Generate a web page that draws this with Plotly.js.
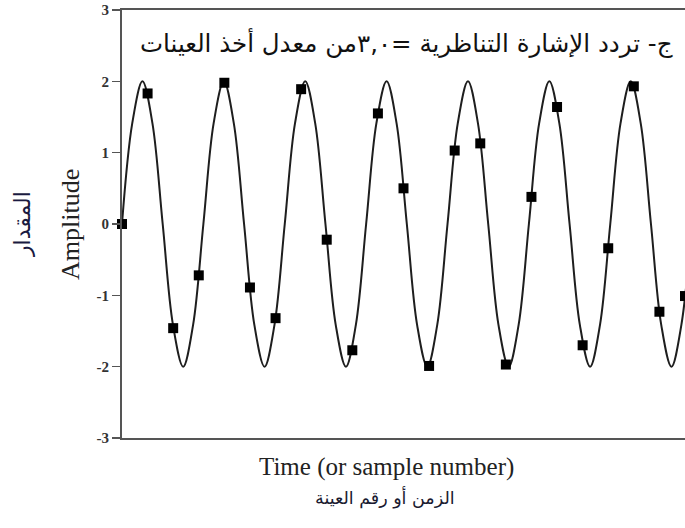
<!DOCTYPE html>
<html>
<head>
<meta charset="utf-8">
<script src="https://cdn.plot.ly/plotly-3.0.1.min.js"></script>
<style>html,body{margin:0;padding:0;background:#fff;}#chart{width:685px;height:528px;}</style>
</head>
<body>
<div id="chart"></div>
<script>
const sampleN = [0,1,2,3,4,5,6,7,8,9,10,11,12,13,14,15,16,17,18,19,20,21,22];
const sampleAmp = [0,1.83,-1.46,-0.72,1.98,-0.89,-1.32,1.89,-0.22,-1.77,1.55,0.50,-1.99,1.03,1.13,-1.97,0.38,1.64,-1.70,-0.34,1.93,-1.23,-1.01];

// Analog signal: points (eighth-period steps)
const curveT = [0,0.40,0.80,1.19,1.59,1.99,2.39,2.78,3.18,3.58,3.98,4.37,4.77,5.17,5.57,5.96,6.36,6.76,7.16,7.55,7.95,8.35,8.75,9.14,9.54,9.94,10.34,10.73,11.13,11.53,11.93,12.32,12.72,13.12,13.52,13.91,14.31,14.71,15.11,15.50,15.90,16.30,16.70,17.09,17.49,17.89,18.29,18.68,19.08,19.48,19.88,20.27,20.67,21.07,21.47,21.86,22.26];
const curveAmp = [0,1.41,2,1.41,0,-1.41,-2,-1.41,0,1.41,2,1.41,0,-1.41,-2,-1.41,0,1.41,2,1.41,0,-1.41,-2,-1.41,0,1.41,2,1.41,0,-1.41,-2,-1.41,0,1.41,2,1.41,0,-1.41,-2,-1.41,0,1.41,2,1.41,0,-1.41,-2,-1.41,0,1.41,2,1.41,0,-1.41,-2,-1.41,0];

const yTicks = [-3,-2,-1,0,1,2,3];

const titleAr = "ج- تردد الإشارة التناظرية =٣,٠من معدل أخذ العينات";
const xTitleEn = "Time (or sample number)";
const xTitleAr = "الزمن أو رقم العينة";
const yTitleEn = "Amplitude";
const yTitleAr = "المقدار";

const traces = [
  {x: curveT, y: curveAmp, mode: 'lines', type: 'scatter',
   line: {color: '#1e1e1e', width: 2, shape: 'spline', smoothing: 1}, hoverinfo: 'skip'},
  {x: sampleN, y: sampleAmp, mode: 'markers', type: 'scatter', cliponaxis: false,
   marker: {symbol: 'square', size: 10, color: '#000'}}
];

const layout = {
  width: 685, height: 528,
  margin: {l: 122, r: 0, t: 10, b: 90, pad: 0},
  paper_bgcolor: '#fff', plot_bgcolor: '#fff',
  showlegend: false,
  xaxis: {range: [0, 22], showticklabels: false, ticks: '', showgrid: false, zeroline: false,
          showline: true, linecolor: '#555', linewidth: 2, mirror: true},
  yaxis: {range: [-3, 3], tickvals: yTicks, ticktext: yTicks.map(String), ticks: 'outside', ticklen: 8,
          tickwidth: 1.5, tickcolor: '#555', showgrid: false, zeroline: false,
          showline: true, linecolor: '#555', linewidth: 2,
          tickfont: {family: 'Liberation Serif', size: 15, color: '#333', weight: 'bold'}},
  annotations: [
    {text: titleAr, xref: 'paper', yref: 'paper', x: 0.506, y: 0.923, showarrow: false,
     xanchor: 'center', yanchor: 'middle',
     font: {family: 'DejaVu Sans', size: 24.5, color: '#111'}},
    {text: yTitleEn, xref: 'paper', yref: 'paper', x: -0.0924, y: 0.5, showarrow: false, textangle: -90,
     xanchor: 'center', yanchor: 'middle',
     font: {family: 'Liberation Serif', size: 26, color: '#222'}},
    {text: yTitleAr, xref: 'paper', yref: 'paper', x: -0.1776, y: 0.5, showarrow: false, textangle: -90,
     xanchor: 'center', yanchor: 'middle',
     font: {family: 'DejaVu Sans', size: 22, color: '#1a1a40'}},
    {text: xTitleEn, xref: 'paper', yref: 'paper', x: 0.469, y: 0, yshift: -29, showarrow: false,
     xanchor: 'center', yanchor: 'middle',
     font: {family: 'Liberation Serif', size: 25, color: '#222'}},
    {text: xTitleAr, xref: 'paper', yref: 'paper', x: 0.467, y: 0, yshift: -59, showarrow: false,
     xanchor: 'center', yanchor: 'middle',
     font: {family: 'DejaVu Sans', size: 17.5, color: '#1a1a30'}}
  ]
};

Plotly.newPlot('chart', traces, layout, {displayModeBar: false, staticPlot: true});
</script>
</body>
</html>
